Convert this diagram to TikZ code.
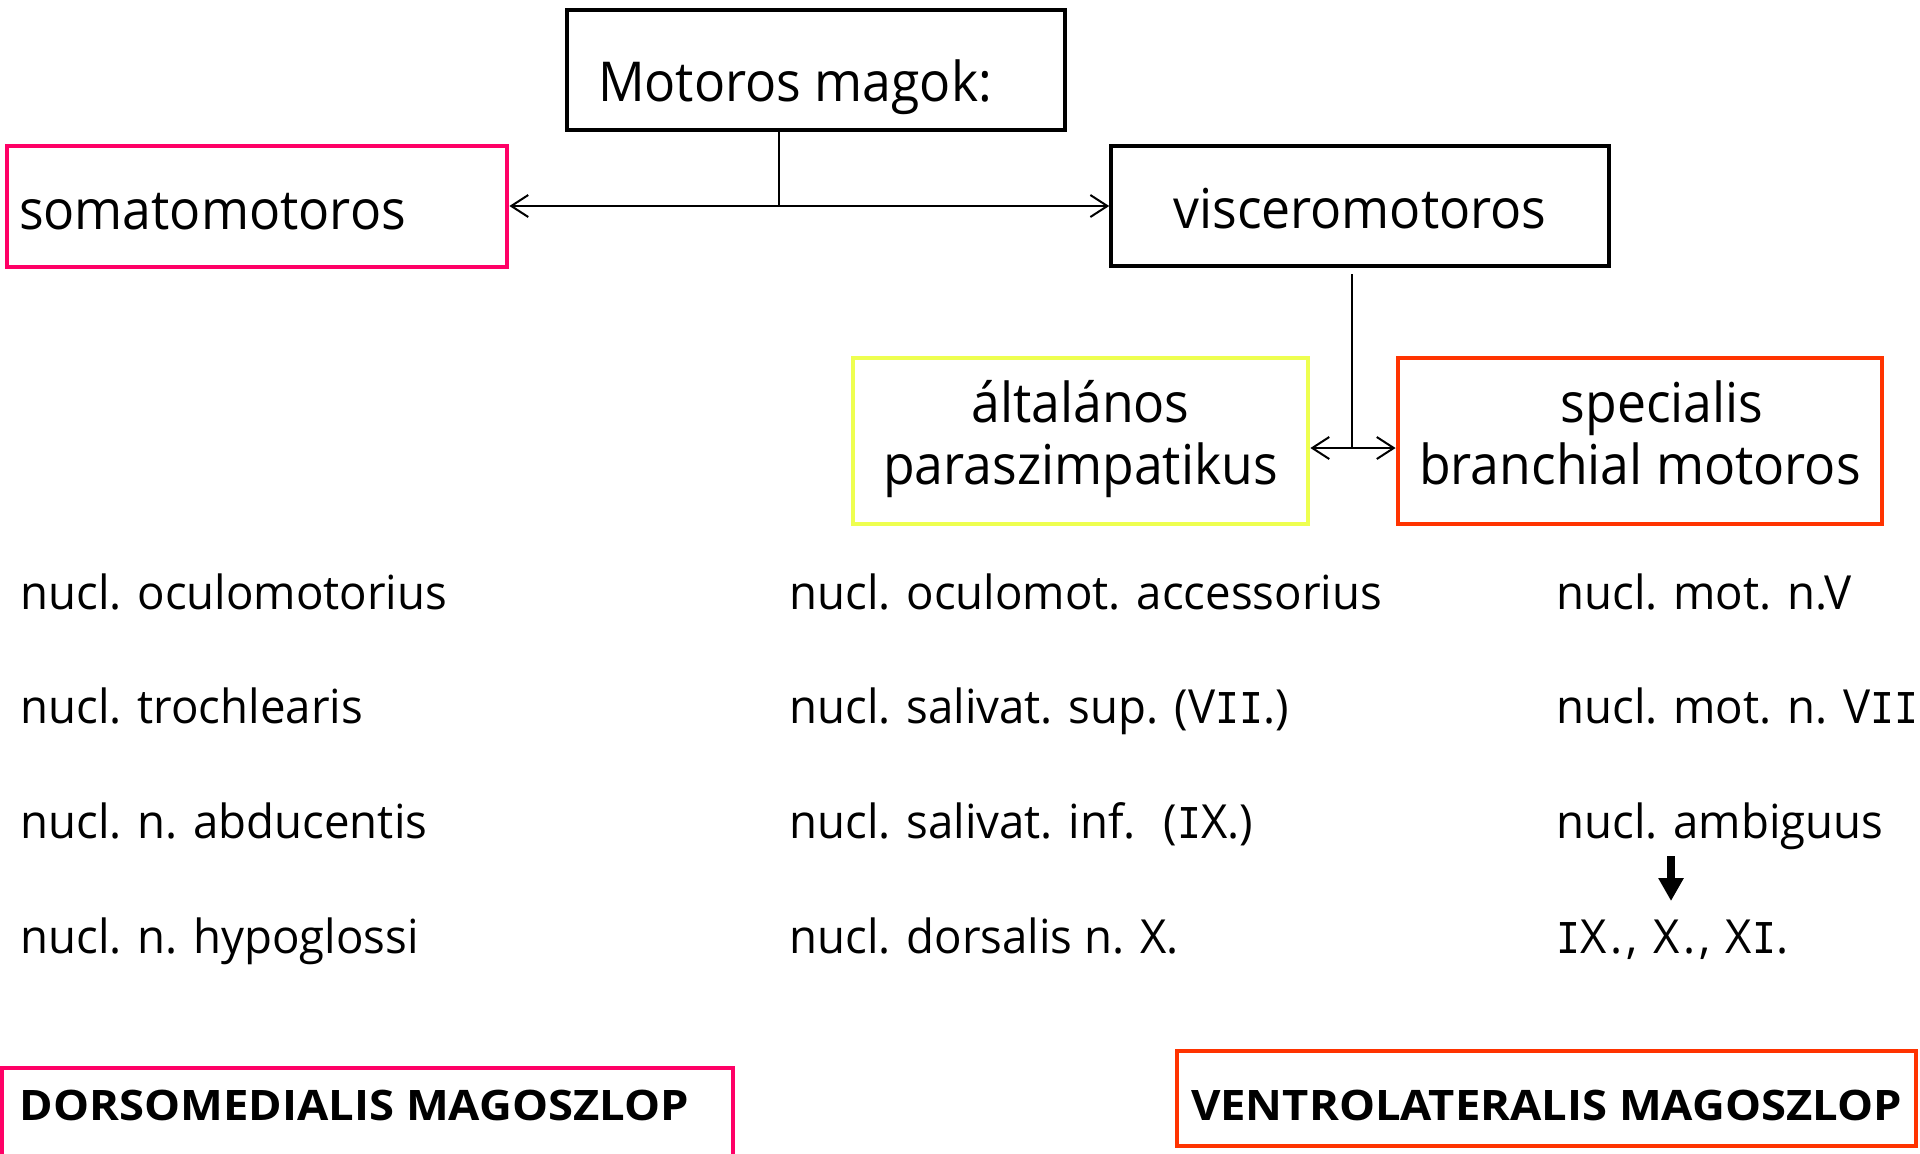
\documentclass[tikz,border=0pt]{standalone}
\usepackage{fontspec}
\setmainfont{Open Sans}
\newfontfamily\lblfont{Open Sans}[FakeStretch=0.94]
\newfontfamily\rowfont{Open Sans}[FakeStretch=0.97]
\newfontfamily\rowwidefont{Open Sans}[FakeStretch=0.97,LetterSpace=8]
\newfontfamily\botfont{Open Sans}[FakeStretch=1.08]
\newfontfamily\romfont{Liberation Mono}[FakeStretch=0.85]
\newcommand{\rI}{{\romfont I}}
\usetikzlibrary{arrows.meta}
\definecolor{pinkc}{RGB}{255,0,102}
\definecolor{yellowc}{RGB}{238,255,80}
\definecolor{redc}{RGB}{255,51,0}
\tikzset{
  boxbase/.style={draw, inner sep=0pt, text depth=0pt, font=\lblfont\fontsize{27.5}{31}\selectfont},
  blackbox/.style={boxbase, line width=1.8pt},
  colbox/.style={boxbase, line width=2.4pt},
  twoline/.style={draw, inner sep=0pt, line width=2.4pt, font=\lblfont\fontsize{27.5}{31}\selectfont},
  bottombox/.style={draw, inner sep=0pt, line width=2.4pt, text depth=0pt, font=\botfont\bfseries\fontsize{21}{25}\selectfont},
  rowtext/.style={anchor=base west, inner sep=0pt, font=\rowfont\fontsize{23.5}{28}\selectfont},
  conn/.style={line width=1pt},
  openarrows/.style={conn, {Straight Barb[length=8.5pt,width=11pt]}-{Straight Barb[length=8.5pt,width=11pt]}},
  bigarrow/.style={line width=4pt, -{Triangle[length=11.5pt,width=12pt]}}
}
\begin{document}
\begin{tikzpicture}[x=0.5pt,y=-0.5pt]
\clip (0,0) rectangle (1920,1153);
\fill[white] (0,0) rectangle (1920,1153);

% top boxes
\node[blackbox, minimum width=249pt, minimum height=60pt, text height=31pt] (top) at (816,70)
  {\makebox[249pt][l]{\hspace*{15.5pt}Motoros magok:}};
\node[colbox, draw=pinkc, minimum width=250pt, minimum height=60.5pt, text height=22.5pt] (soma) at (257,206.5)
  {\makebox[250pt][l]{\hspace*{6pt}somatomotoros}};
\node[blackbox, minimum width=249pt, minimum height=60pt, text height=22pt] (visc) at (1360,206)
  {\makebox[249pt][c]{visceromotoros}};

\node[twoline, draw=yellowc, minimum width=227.5pt, minimum height=83pt] (alt) at (1080.5,441)
  {\begin{tabular}{@{}c@{}}általános\\paraszimpatikus\end{tabular}};
\node[twoline, draw=redc, minimum width=242pt, minimum height=83pt] (spec) at (1640,441)
  {\begin{tabular}{@{}c@{}}\hspace*{22pt}specialis\\branchial motoros\end{tabular}};

% connectors
\coordinate (j1) at (779,206);
\draw[conn] (top.south -| j1) -- (j1);
\draw[openarrows] (soma.east |- j1) -- (visc.west |- j1);
\coordinate (j2top) at (1352,274);
\coordinate (j2) at (1352,448);
\draw[conn] (j2top) -- (j2);
\draw[openarrows] (alt.east |- j2) -- (spec.west |- j2);

% rows
\node[rowtext] (r11) at (20,609) {nucl. oculomotorius};
\node[rowtext] (r12) at (20,723) {nucl. trochlearis};
\node[rowtext] (r13) at (20,838) {nucl. n. abducentis};
\node[rowtext] (r14) at (20,953) {nucl. n. hypoglossi};

\node[rowtext] (r21) at (789,609) {nucl. oculomot. accessorius};
\node[rowtext] (r22) at (789,723) {nucl. salivat. sup. (V\rI\rI.)};
\node[rowtext] (r23) at (789,838) {nucl. salivat. inf. \ (\rI X.)};
\node[rowtext] (r24) at (789,953) {nucl. dorsalis n. X.};

\node[rowtext] (r31) at (1556,609) {nucl. mot. n.V};
\node[rowtext] (r32) at (1556,723) {nucl. mot. n. V\rI\rI};
\node[rowtext] (amb) at (1556,838) {nucl. ambiguus};
\node[rowtext, font=\rowwidefont\fontsize{23.5}{28}\selectfont] (ix) at (1556,953) {\rI X., X., X\rI.};

\coordinate (a1) at (1671,856);
\coordinate (a2) at (1671,901);
\draw[bigarrow] (a1) -- (a2);

% bottom boxes
\node[bottombox, draw=pinkc, minimum width=365.5pt, minimum height=46pt, text height=6pt] (dorso) at (367.5,1114)
  {\makebox[365.5pt][l]{\hspace*{9pt}DORSOMEDIALIS MAGOSZLOP}};
\node[bottombox, draw=redc, minimum width=369.5pt, minimum height=47.5pt, text height=21.5pt] (ventro) at (1546.5,1098.5)
  {\makebox[369.5pt][c]{VENTROLATERALIS MAGOSZLOP}};
\end{tikzpicture}
\end{document}
